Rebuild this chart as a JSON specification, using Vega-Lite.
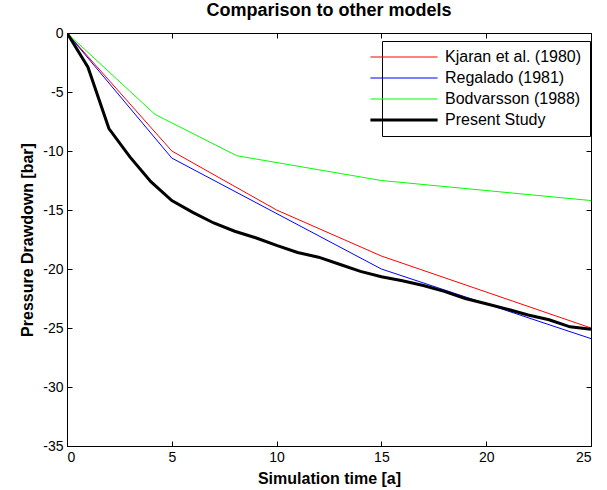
{
  "$schema": "https://vega.github.io/schema/vega-lite/v6.json",
  "autosize": {"type": "none"},
  "width": 524,
  "height": 413,
  "padding": {"left": 67, "top": 33, "right": 16, "bottom": 44},
  "background": "white",
  "title": {"text": "Comparison to other models", "fontSize": 18, "fontWeight": "bold", "font": "Liberation Sans", "color": "black", "anchor": "middle", "offset": 6, "frame": "group"},
  "config": {
    "view": {"stroke": "black", "strokeWidth": 1},
    "axis": {"labelFont": "Liberation Sans", "labelFontSize": 14, "labelColor": "black", "titleFont": "Liberation Sans", "titleFontSize": 16, "titleFontWeight": "bold", "titleColor": "black", "domainColor": "black", "tickColor": "black", "tickSize": -5, "labelPadding": 9, "grid": false},
    "legend": {"labelFont": "Liberation Sans", "labelFontSize": 16, "labelColor": "black"}
  },
  "data": {"values": [
    {"t": 0, "p": 0, "model": "Kjaran et al. (1980)"},
    {"t": 5, "p": -10, "model": "Kjaran et al. (1980)"},
    {"t": 10, "p": -15, "model": "Kjaran et al. (1980)"},
    {"t": 15, "p": -18.9, "model": "Kjaran et al. (1980)"},
    {"t": 25, "p": -25, "model": "Kjaran et al. (1980)"},
    {"t": 0, "p": 0, "model": "Regalado (1981)"},
    {"t": 5, "p": -10.6, "model": "Regalado (1981)"},
    {"t": 15, "p": -20, "model": "Regalado (1981)"},
    {"t": 25, "p": -25.9, "model": "Regalado (1981)"},
    {"t": 0, "p": 0, "model": "Bodvarsson (1988)"},
    {"t": 4.2, "p": -6.9, "model": "Bodvarsson (1988)"},
    {"t": 8.1, "p": -10.4, "model": "Bodvarsson (1988)"},
    {"t": 15, "p": -12.5, "model": "Bodvarsson (1988)"},
    {"t": 25, "p": -14.2, "model": "Bodvarsson (1988)"},
    {"t": 0, "p": 0, "model": "Present Study"},
    {"t": 1, "p": -2.9, "model": "Present Study"},
    {"t": 2, "p": -8.1, "model": "Present Study"},
    {"t": 3, "p": -10.5, "model": "Present Study"},
    {"t": 4, "p": -12.6, "model": "Present Study"},
    {"t": 5, "p": -14.2, "model": "Present Study"},
    {"t": 6, "p": -15.2, "model": "Present Study"},
    {"t": 7, "p": -16.1, "model": "Present Study"},
    {"t": 8, "p": -16.8, "model": "Present Study"},
    {"t": 9, "p": -17.35, "model": "Present Study"},
    {"t": 10, "p": -18, "model": "Present Study"},
    {"t": 11, "p": -18.6, "model": "Present Study"},
    {"t": 12, "p": -19, "model": "Present Study"},
    {"t": 13, "p": -19.6, "model": "Present Study"},
    {"t": 14, "p": -20.2, "model": "Present Study"},
    {"t": 15, "p": -20.65, "model": "Present Study"},
    {"t": 16, "p": -21, "model": "Present Study"},
    {"t": 17, "p": -21.4, "model": "Present Study"},
    {"t": 18, "p": -21.9, "model": "Present Study"},
    {"t": 19, "p": -22.5, "model": "Present Study"},
    {"t": 20, "p": -22.95, "model": "Present Study"},
    {"t": 21, "p": -23.4, "model": "Present Study"},
    {"t": 22, "p": -23.9, "model": "Present Study"},
    {"t": 23, "p": -24.3, "model": "Present Study"},
    {"t": 24, "p": -24.9, "model": "Present Study"},
    {"t": 25, "p": -25.1, "model": "Present Study"}
  ]},
  "layer": [
    {
      "mark": {"type": "line", "clip": true},
      "encoding": {
        "x": {"field": "t", "type": "quantitative", "scale": {"domain": [0, 25], "nice": false, "zero": false},
              "axis": {"orient": "bottom", "values": [0, 5, 10, 15, 20, 25], "title": "Simulation time [a]", "titlePadding": 6, "labelExpr": "'' + datum.value"}},
        "y": {"field": "p", "type": "quantitative", "scale": {"domain": [-35, 0], "nice": false},
              "axis": {"orient": "left", "values": [0, -5, -10, -15, -20, -25, -30, -35], "title": "Pressure Drawdown [bar]", "titlePadding": 7, "labelExpr": "'' + datum.value"}},
        "color": {"field": "model", "type": "nominal",
                  "scale": {"domain": ["Kjaran et al. (1980)", "Regalado (1981)", "Bodvarsson (1988)", "Present Study"], "range": ["#ff0000", "#0000ff", "#00ff00", "#000000"]},
                  "legend": {"title": null, "orient": "none", "legendX": 315, "legendY": 8, "strokeColor": "black", "fillColor": "white", "padding": 8, "symbolType": "M-4.6,0H6.6", "symbolSize": 144, "rowPadding": 5, "labelOffset": 39,
                             "encode": {"symbols": {"update": {"strokeWidth": {"signal": "datum.value === 'Present Study' ? 3 : 1"}}}}}},
        "strokeWidth": {"condition": {"test": "datum.model === 'Present Study'", "value": 3}, "value": 1},
        "order": {"field": "t", "type": "quantitative"}
      }
    },
    {
      "mark": {"type": "point", "opacity": 0},
      "encoding": {
        "x": {"field": "t", "type": "quantitative", "axis": {"orient": "top", "values": [0, 5, 10, 15, 20, 25], "labels": false, "title": null, "domain": false}},
        "y": {"field": "p", "type": "quantitative", "axis": {"orient": "right", "values": [0, -5, -10, -15, -20, -25, -30, -35], "labels": false, "title": null, "domain": false}}
      }
    }
  ],
  "resolve": {"axis": {"x": "independent", "y": "independent"}}
}
